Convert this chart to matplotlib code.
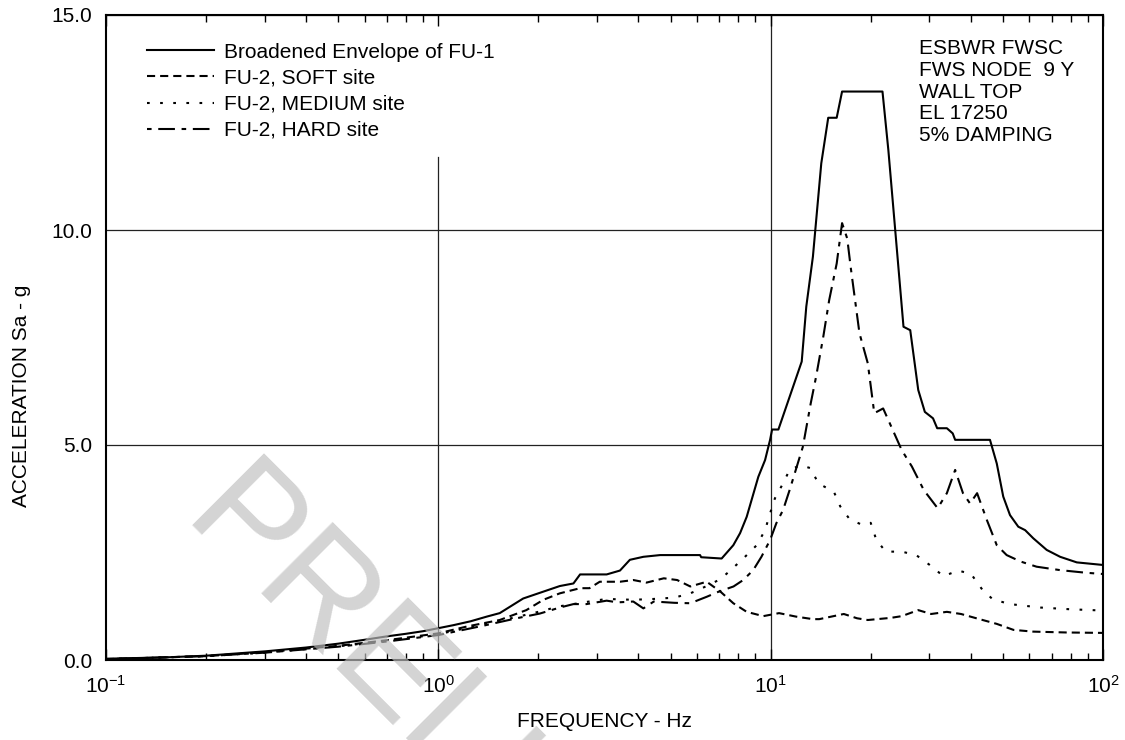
import numpy as np
import matplotlib
matplotlib.use("Agg")
import matplotlib.pyplot as plt
from matplotlib.ticker import LogLocator, NullFormatter, FixedLocator, FixedFormatter

plt.rcParams['font.family'] = ['Liberation Sans', 'DejaVu Sans']
plt.rcParams['mathtext.fontset'] = 'custom'
plt.rcParams['mathtext.rm'] = 'Liberation Sans'
plt.rcParams['mathtext.it'] = 'Liberation Sans'
plt.rcParams['mathtext.default'] = 'regular'

# ---------------- data ----------------
env_f = [0.1, 0.15, 0.2, 0.3, 0.4, 0.5, 0.6, 0.7, 0.8, 0.9, 1.0, 1.11, 1.25, 1.40, 1.53,
         1.80, 2.07, 2.32, 2.55, 2.67, 3.21, 3.52, 3.77, 4.14, 4.65, 6.13, 6.18, 7.12,
         7.72, 8.09, 8.47, 9.18, 9.62, 9.96, 10.1, 10.55, 12.4, 12.8, 13.4, 14.2, 14.9,
         15.8, 16.4, 21.7, 22.6, 23.7, 25.1, 26.3, 27.8, 29.1, 30.8, 31.7, 33.9, 35.3,
         35.9, 45.7, 47.9, 50.1, 52.5, 55.6, 58.3, 61.7, 67.7, 74.3, 83.4, 100.0]
env_a = [0.03, 0.06, 0.10, 0.20, 0.29, 0.38, 0.47, 0.55, 0.61, 0.67, 0.74, 0.81, 0.90, 1.01, 1.09,
         1.43, 1.59, 1.72, 1.78, 1.99, 1.99, 2.08, 2.33, 2.40, 2.44, 2.44, 2.39, 2.36,
         2.67, 2.95, 3.33, 4.26, 4.65, 5.12, 5.36, 5.36, 6.94, 8.22, 9.38, 11.55, 12.61,
         12.61, 13.22, 13.22, 11.86, 10.0, 7.75, 7.67, 6.28, 5.77, 5.62, 5.39, 5.39, 5.27,
         5.12, 5.12, 4.57, 3.80, 3.37, 3.10, 3.02, 2.83, 2.56, 2.40, 2.27, 2.21]

soft_f = [0.1, 0.2, 0.3, 0.5, 0.7, 1.0, 1.22, 1.53, 1.84, 2.07, 2.32, 2.67, 2.85, 3.06,
          3.52, 3.86, 4.23, 4.77, 5.23, 5.73, 6.42, 7.06, 7.72, 8.47, 9.5, 10.6, 11.9,
          13.4, 14.0, 16.6, 18.2, 19.6, 23.0, 24.8, 27.8, 30.4, 33.9, 37.4, 41.6, 47.9,
          53.8, 61.6, 77.7, 100.0]
soft_a = [0.02, 0.09, 0.18, 0.33, 0.46, 0.62, 0.78, 0.93, 1.16, 1.40, 1.55, 1.67, 1.67, 1.82,
          1.82, 1.86, 1.80, 1.90, 1.86, 1.71, 1.82, 1.59, 1.32, 1.12, 1.02, 1.09, 1.01,
          0.95, 0.95, 1.07, 0.97, 0.93, 0.98, 1.02, 1.16, 1.07, 1.12, 1.07, 0.97, 0.84,
          0.70, 0.66, 0.64, 0.63]

med_f = [0.1, 0.2, 0.3, 0.5, 0.7, 1.0, 1.37, 1.72, 2.0, 2.32, 2.79, 3.21, 3.86, 4.45,
         5.13, 5.73, 6.42, 7.06, 7.58, 8.27, 9.08, 9.62, 9.96, 10.3, 10.9, 11.4, 12.3,
         13.2, 13.9, 15.5, 16.2, 17.3, 18.9, 20.0, 20.8, 22.2, 24.8, 27.4, 30.1, 33.1,
         36.7, 40.1, 43.3, 46.6, 52.5, 64.8, 79.6, 100.0]
med_a = [0.02, 0.09, 0.17, 0.32, 0.44, 0.60, 0.83, 1.00, 1.12, 1.25, 1.35, 1.42, 1.40, 1.42,
         1.45, 1.55, 1.72, 1.88, 2.09, 2.36, 2.67, 3.02, 3.41, 3.76, 4.11, 4.42, 4.53,
         4.46, 4.11, 3.91, 3.57, 3.27, 3.14, 3.19, 2.79, 2.52, 2.52, 2.44, 2.21, 1.95,
         2.08, 2.00, 1.64, 1.41, 1.30, 1.22, 1.18, 1.15]

hard_f = [0.1, 0.2, 0.3, 0.5, 0.7, 1.0, 1.37, 1.72, 2.02, 2.32, 2.55, 2.79, 3.21, 3.46,
          3.86, 4.14, 4.45, 5.13, 5.73, 6.42, 6.98, 7.73, 8.27, 8.86, 9.38, 9.96, 10.4,
          10.9, 11.4, 11.9, 12.5, 13.2, 13.7, 14.4, 15.0, 15.8, 16.4, 17.0, 17.4, 18.5,
          19.6, 20.5, 21.8, 24.8, 26.6, 28.9, 31.8, 33.9, 35.9, 37.9, 39.8, 41.8, 44.7,
          47.9, 51.3, 56.5, 63.1, 74.3, 88.6, 100.0]
hard_a = [0.02, 0.09, 0.17, 0.31, 0.43, 0.58, 0.80, 0.97, 1.08, 1.22, 1.30, 1.30, 1.38, 1.34,
          1.36, 1.20, 1.36, 1.33, 1.32, 1.47, 1.59, 1.71, 1.86, 2.09, 2.40, 2.79, 3.18,
          3.49, 3.95, 4.42, 4.96, 5.97, 6.59, 7.52, 8.37, 9.22, 10.16, 9.80, 9.15, 7.60,
          6.90, 5.74, 5.85, 4.88, 4.50, 3.95, 3.53, 3.88, 4.42, 3.88, 3.64, 3.88, 3.26,
          2.67, 2.44, 2.29, 2.17, 2.09, 2.03, 2.00]

labels = ["Broadened Envelope of FU-1", "FU-2, SOFT site", "FU-2, MEDIUM site", "FU-2, HARD site"]
yticks = [0.0, 5.0, 10.0, 15.0]
ytick_labels = ["0.0", "5.0", "10.0", "15.0"]
info_text = "ESBWR FWSC\nFWS NODE  9 Y\nWALL TOP\nEL 17250\n5% DAMPING"

# ---------------- figure ----------------
W, H = 1125, 740
FS = 15
fig = plt.figure(figsize=(W / 100, H / 100), dpi=100)
ax = fig.add_axes([106 / W, 1 - 660 / H, (1103 - 106) / W, (660 - 15) / H])

lw = 1.5
ax.plot(env_f, env_a, color='black', lw=lw, linestyle='-', label=labels[0])
ax.plot(soft_f, soft_a, color='black', lw=lw, linestyle=(0, (3.9, 2.4)), label=labels[1])
ax.plot(med_f, med_a, color='black', lw=lw, linestyle=(0, (1.3, 5.0)), label=labels[2])
ax.plot(hard_f, hard_a, color='black', lw=lw, linestyle=(0, (2.2, 3.2, 8.0, 3.2)), label=labels[3])

ax.set_xscale('log')
ax.set_xlim(0.1, 100)
ax.set_ylim(0, 15)

ax.yaxis.set_major_locator(FixedLocator(yticks))
ax.yaxis.set_major_formatter(FixedFormatter(ytick_labels))
ax.xaxis.set_major_locator(LogLocator(base=10, numticks=10))
ax.xaxis.set_minor_locator(LogLocator(base=10, subs=np.arange(2, 10), numticks=20))
ax.xaxis.set_minor_formatter(NullFormatter())

ax.tick_params(axis='x', which='both', direction='in', top=True, bottom=True,
               labelsize=FS, pad=11, colors='black')
ax.tick_params(axis='x', which='major', length=8, width=1.0)
ax.tick_params(axis='x', which='minor', length=5, width=1.0)
ax.tick_params(axis='y', which='both', length=0, labelsize=FS, pad=10)

for s in ax.spines.values():
    s.set_linewidth(1.5)
    s.set_color('black')

# grid
ax.yaxis.grid(True, color='#222222', lw=0.9)
ax.axvline(10, color='#222222', lw=0.9, zorder=1.5)
ax.axvline(1, ymax=0.78, color='#222222', lw=0.9, zorder=1.5)

ax.set_xlabel("FREQUENCY - Hz", fontsize=FS, labelpad=11)
ax.set_ylabel("ACCELERATION Sa - g", fontsize=FS, labelpad=10)
ax.yaxis.set_label_coords(-0.075, 0.41)

leg = ax.legend(loc='upper left', bbox_to_anchor=(0.033, 0.97), frameon=False,
                fontsize=FS, handlelength=3.2, handletextpad=0.47, labelspacing=0.34,
                borderaxespad=0.0)

ax.text(0.8155, 0.963, info_text, transform=ax.transAxes, ha='left', va='top',
        fontsize=FS, linespacing=1.19)

# watermark
fig.text(179 / W, 1 - 525 / H, "PRELIMINARY", fontsize=106, rotation=-45,
         rotation_mode='anchor', ha='left', va='baseline', color=(0.75, 0.75, 0.75),
         alpha=0.67, zorder=10)

fig.savefig("out.png", dpi=100)
